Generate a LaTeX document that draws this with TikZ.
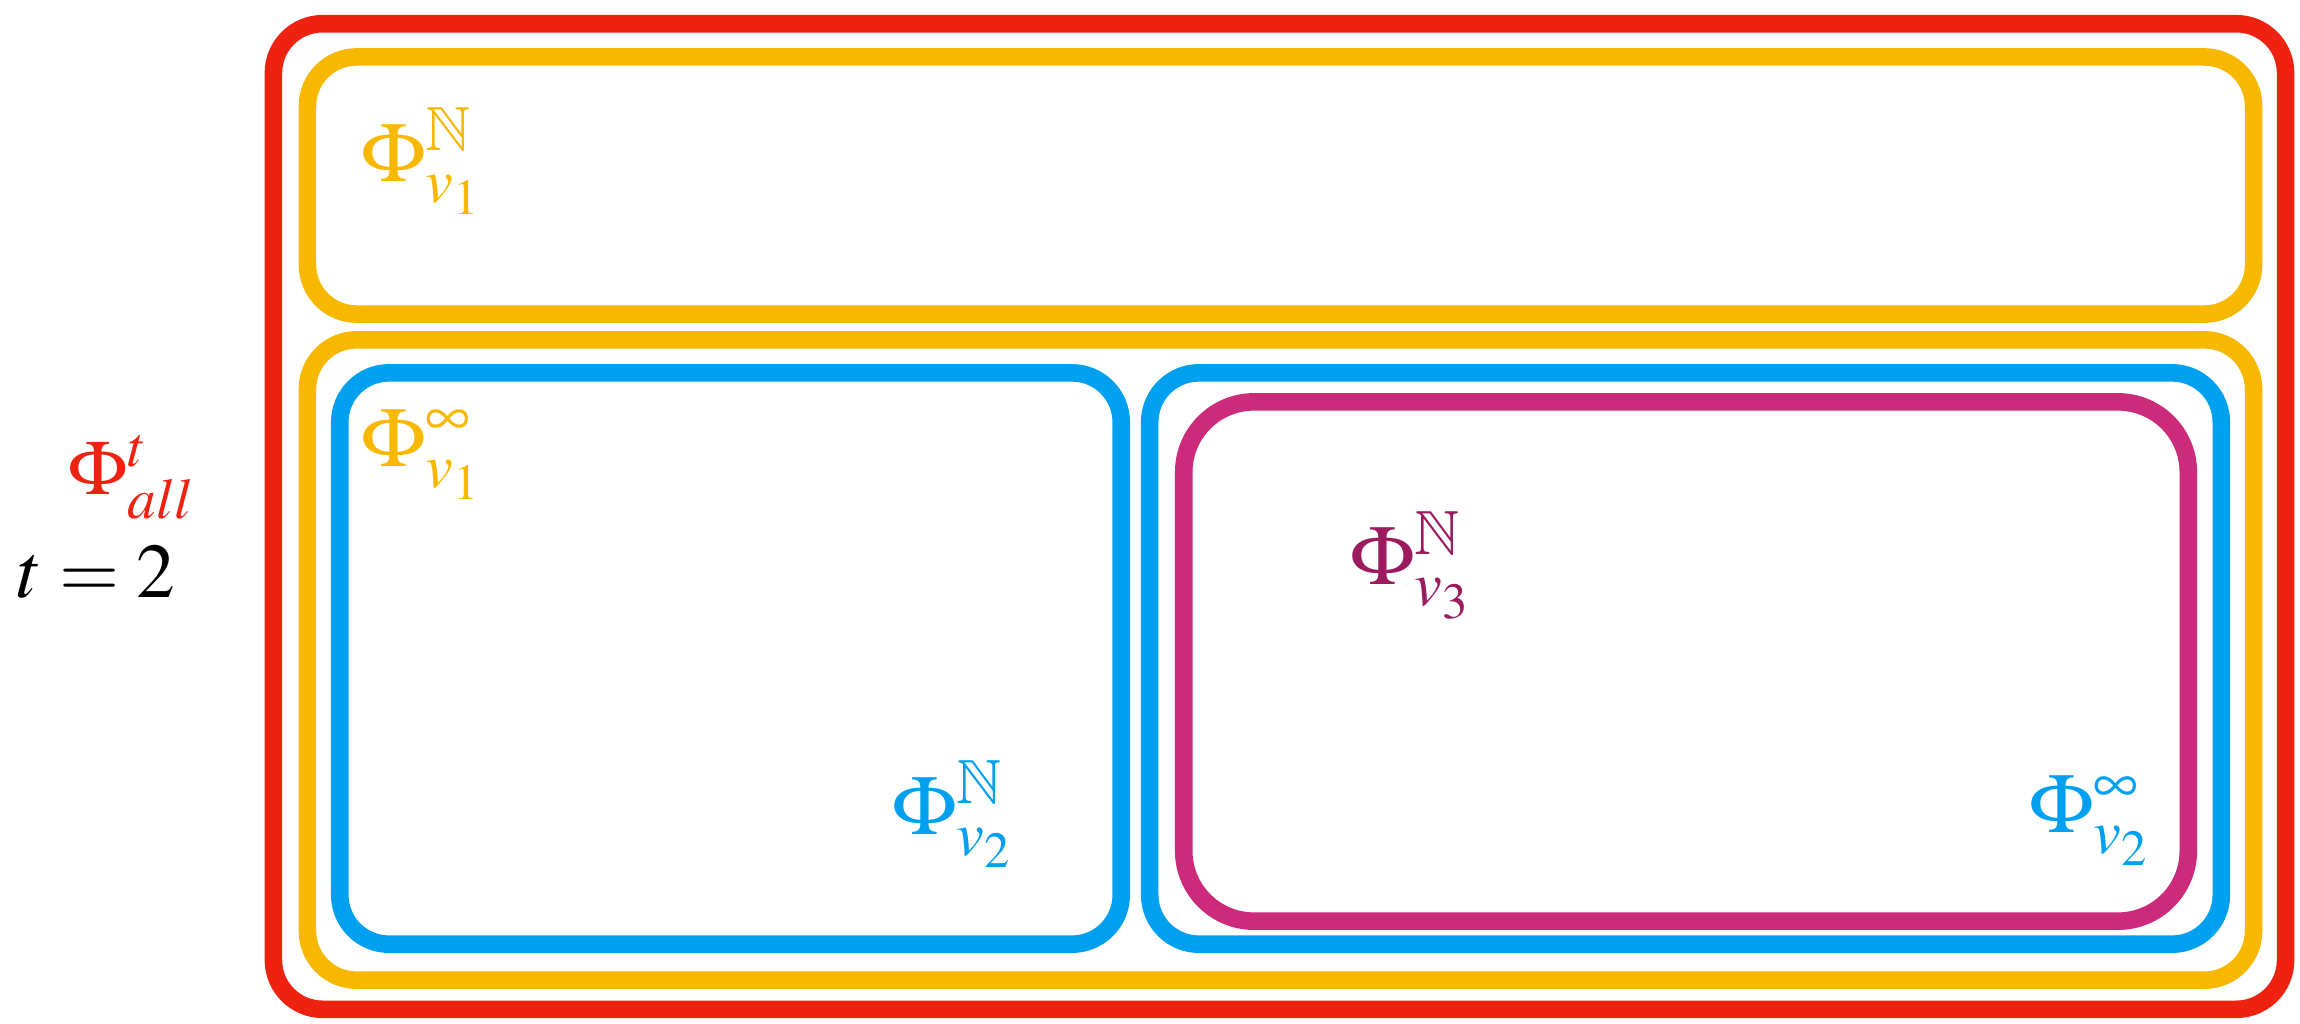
\documentclass[tikz,border=0pt]{standalone}
\usepackage{amsmath,amssymb}
\usepackage{mathptmx}
\usepackage{tikz}
\usetikzlibrary{positioning}

\definecolor{allred}{HTML}{EE2211}
\definecolor{vonegold}{HTML}{F8B800}
\definecolor{vtwoblue}{HTML}{00A0F0}
\definecolor{vthreepink}{HTML}{CC2A7A}
\definecolor{vthreelabel}{HTML}{9B1B5E}

\begin{document}
\begin{tikzpicture}[x=0.01cm,y=-0.01cm,
  set box/.style={draw,line width=5pt,rounded corners=14pt,inner sep=0pt,outer sep=0pt},
  set label/.style={font=\fontsize{24}{28}\selectfont,inner sep=0pt}]
\useasboundingbox (0,0) rectangle (2300,1023);
% nested sets
\node[set box, draw=allred, minimum width=20.11cm, minimum height=9.85cm] at (1279.5,516.5) (all) {};
\node[set box, draw=vonegold, minimum width=19.45cm, minimum height=2.57cm] at (1280.5,185.5) (vonenat) {};
\node[set box, draw=vonegold, minimum width=19.45cm, minimum height=6.40cm] at (1280.5,660) (voneinf) {};
\node[set box, draw=vtwoblue, minimum width=7.81cm, minimum height=5.71cm] at (730.5,658.5) (vtwonat) {};
\node[set box, draw=vtwoblue, minimum width=10.71cm, minimum height=5.71cm] at (1685.5,658.5) (vtwoinf) {};
\node[set box, draw=vthreepink, rounded corners=20pt, minimum width=10.04cm, minimum height=5.19cm] at (1686,661.5) (vthreenat) {};
% labels
\node[set label, text=allred, font=\fontsize{22}{26}\selectfont] at (132,477) (lall) {$\Phi^{t}_{all}$};
\node[set label, font=\fontsize{22}{26}\selectfont] at (96,572) (ltime) {$t=2$};
\node[set label, text=vonegold] at (422,161) (lvonenat) {$\Phi^{\mathbb{N}}_{v_1}$};
\node[set label, text=vonegold] at (422,455) (lvoneinf) {$\Phi^{\infty}_{v_1}$};
\node[set label, text=vtwoblue] at (953,814) (lvtwonat) {$\Phi^{\mathbb{N}}_{v_2}$};
\node[set label, text=vtwoblue] at (2090,821) (lvtwoinf) {$\Phi^{\infty}_{v_2}$};
\node[set label, text=vthreelabel] at (1411,565) (lvthreenat) {$\Phi^{\mathbb{N}}_{v_3}$};
\end{tikzpicture}
\end{document}
